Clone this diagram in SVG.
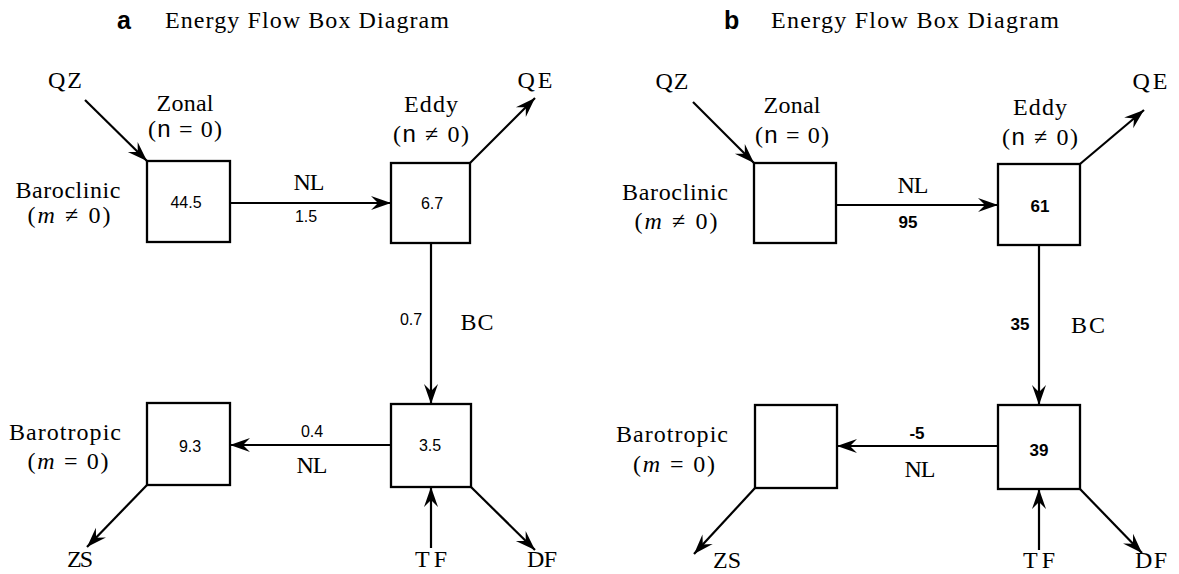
<svg xmlns="http://www.w3.org/2000/svg" width="1179" height="574" viewBox="0 0 1179 574">
<style>
.t{font-family:"Liberation Serif",serif;font-size:24px;fill:#000}
.s{font-family:"Liberation Sans",sans-serif}
.n{font-family:"Liberation Sans",sans-serif;font-size:16px;fill:#000}
.nb{font-family:"Liberation Sans",sans-serif;font-size:17px;font-weight:bold;fill:#000}
.hd{font-family:"Liberation Sans",sans-serif;font-size:25px;font-weight:bold;fill:#000}
.box{fill:#fff;stroke:#000;stroke-width:2.3}
.c line{stroke:#000;stroke-width:2.2;marker-end:url(#ah)}
</style>
<defs>
<marker id="ah" viewBox="-21 -8 22 16" refX="0" refY="0" markerWidth="22" markerHeight="16" orient="auto" markerUnits="userSpaceOnUse">
<path d="M0,0 L-20,-7 L-13,0 L-20,7 Z" fill="#000"/>
</marker>
</defs>
<rect width="1179" height="574" fill="#fff"/>

<!-- Panel a -->
<g id="titleA">
<text class="hd" x="117" y="29">a</text>
<text class="t" x="165" y="28" textLength="284" lengthAdjust="spacing">Energy Flow Box Diagram</text>
</g>
<g id="zonalA">
<rect class="box" x="147" y="161" width="83" height="81"/>
<text class="t" x="185" y="111" text-anchor="middle" textLength="57">Zonal</text>
<text class="t" x="185" y="137" text-anchor="middle" textLength="74">(<tspan class="s">n</tspan> = 0)</text>
<text class="n" x="186" y="208" text-anchor="middle">44.5</text>
</g>
<g id="eddyA">
<rect class="box" x="391" y="163" width="79" height="80"/>
<text class="t" x="431" y="112" text-anchor="middle" textLength="54">Eddy</text>
<text class="t" x="431" y="142" text-anchor="middle" textLength="76">(<tspan class="s">n</tspan> ≠ 0)</text>
<text class="n" x="432" y="209" text-anchor="middle">6.7</text>
</g>
<g id="barotropicA">
<rect class="box" x="147" y="403" width="83" height="82"/>
<text class="n" x="190" y="452" text-anchor="middle">9.3</text>
</g>
<g id="eddyBtA">
<rect class="box" x="391" y="404" width="80" height="83"/>
<text class="n" x="430" y="451" text-anchor="middle">3.5</text>
</g>
<g id="labelsA">
<text class="t" x="68" y="198" text-anchor="middle" textLength="105">Baroclinic</text>
<text class="t" x="69" y="223" text-anchor="middle" textLength="83">(<tspan font-style="italic">m</tspan> ≠ 0)</text>
<text class="t" x="65" y="440" text-anchor="middle" textLength="112">Barotropic</text>
<text class="t" x="68" y="469" text-anchor="middle" textLength="81">(<tspan font-style="italic">m</tspan> = 0)</text>
<text class="t" x="65" y="88" text-anchor="middle" textLength="34">QZ</text>
<text class="t" x="535" y="88" text-anchor="middle" textLength="35">QE</text>
<text class="t" x="80" y="567" text-anchor="middle" textLength="26">ZS</text>
<text class="t" x="431" y="567" text-anchor="middle" textLength="32">TF</text>
<text class="t" x="542" y="567" text-anchor="middle" textLength="30">DF</text>
<text class="t" x="309" y="190" text-anchor="middle" textLength="31">NL</text>
<text class="n" x="306" y="222" text-anchor="middle">1.5</text>
<text class="n" x="411" y="325" text-anchor="middle">0.7</text>
<text class="t" x="477" y="330" text-anchor="middle" textLength="33">BC</text>
<text class="n" x="312" y="437" text-anchor="middle">0.4</text>
<text class="t" x="312" y="473" text-anchor="middle" textLength="31">NL</text>
</g>

<!-- Panel b -->
<g id="titleB">
<text class="hd" x="724" y="29">b</text>
<text class="t" x="771" y="28" textLength="288" lengthAdjust="spacing">Energy Flow Box Diagram</text>
</g>
<g id="zonalB">
<rect class="box" x="754" y="163" width="82" height="80"/>
<text class="t" x="792" y="113" text-anchor="middle" textLength="57">Zonal</text>
<text class="t" x="792" y="143" text-anchor="middle" textLength="74">(<tspan class="s">n</tspan> = 0)</text>
</g>
<g id="eddyB">
<rect class="box" x="998" y="164" width="82" height="81"/>
<text class="t" x="1040" y="115" text-anchor="middle" textLength="54">Eddy</text>
<text class="t" x="1040" y="145" text-anchor="middle" textLength="76">(<tspan class="s">n</tspan> ≠ 0)</text>
<text class="nb" x="1040" y="212" text-anchor="middle">61</text>
</g>
<g id="barotropicB">
<rect class="box" x="755" y="405" width="82" height="83"/>
</g>
<g id="eddyBtB">
<rect class="box" x="998" y="405" width="82" height="84"/>
<text class="nb" x="1039" y="456" text-anchor="middle">39</text>
</g>
<g id="labelsB">
<text class="t" x="675" y="200" text-anchor="middle" textLength="106">Baroclinic</text>
<text class="t" x="676" y="229" text-anchor="middle" textLength="83">(<tspan font-style="italic">m</tspan> ≠ 0)</text>
<text class="t" x="672" y="442" text-anchor="middle" textLength="112">Barotropic</text>
<text class="t" x="674" y="472" text-anchor="middle" textLength="82">(<tspan font-style="italic">m</tspan> = 0)</text>
<text class="t" x="672" y="89" text-anchor="middle" textLength="33">QZ</text>
<text class="t" x="1150" y="89" text-anchor="middle" textLength="35">QE</text>
<text class="t" x="727" y="568" text-anchor="middle" textLength="28">ZS</text>
<text class="t" x="1039" y="568" text-anchor="middle" textLength="32">TF</text>
<text class="t" x="1151" y="568" text-anchor="middle" textLength="32">DF</text>
<text class="t" x="913" y="193" text-anchor="middle" textLength="31">NL</text>
<text class="nb" x="908" y="228" text-anchor="middle">95</text>
<text class="nb" x="1020" y="330" text-anchor="middle">35</text>
<text class="t" x="1088" y="333" text-anchor="middle" textLength="34">BC</text>
<text class="nb" x="917" y="439" text-anchor="middle">-5</text>
<text class="t" x="920" y="477" text-anchor="middle" textLength="31">NL</text>
</g>

<g id="connectors" class="c">
<line x1="85" y1="100" x2="147" y2="161"/>
<line x1="230" y1="203" x2="391" y2="203"/>
<line x1="470" y1="163" x2="535" y2="98"/>
<line x1="431" y1="243" x2="431" y2="404"/>
<line x1="391" y1="445" x2="230" y2="445"/>
<line x1="147" y1="485" x2="87" y2="547"/>
<line x1="431" y1="548" x2="431" y2="487"/>
<line x1="471" y1="487" x2="535" y2="550"/>

<line x1="693" y1="102" x2="754" y2="163"/>
<line x1="836" y1="205" x2="998" y2="205"/>
<line x1="1080" y1="164" x2="1144" y2="110"/>
<line x1="1039" y1="245" x2="1039" y2="405"/>
<line x1="998" y1="446" x2="837" y2="446"/>
<line x1="755" y1="488" x2="694" y2="554"/>
<line x1="1039" y1="550" x2="1039" y2="489"/>
<line x1="1080" y1="489" x2="1142" y2="553"/>
</g>
</svg>
